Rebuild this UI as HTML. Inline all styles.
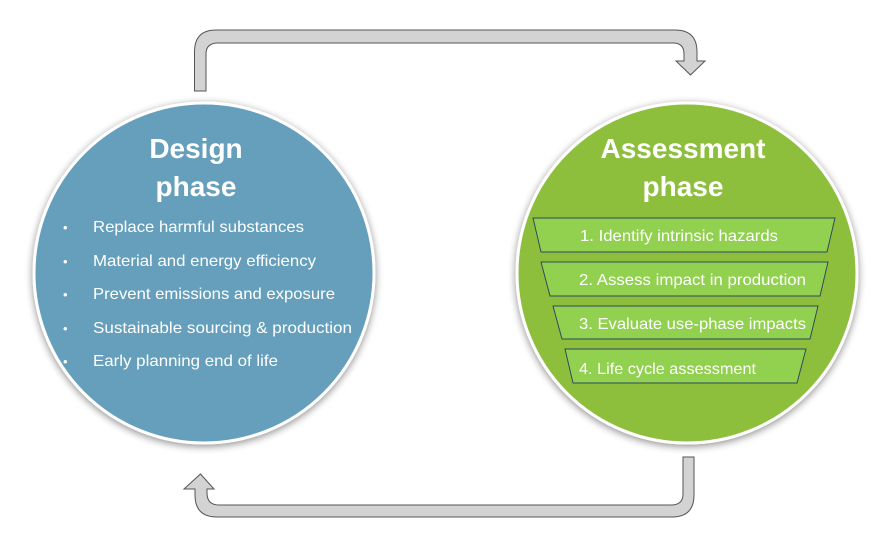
<!DOCTYPE html>
<html><head><style>
body{margin:0;background:#fff;width:883px;height:549px;overflow:hidden;font-family:"Liberation Sans",sans-serif}
</style></head><body>
<svg width="883" height="549" viewBox="0 0 883 549" xmlns="http://www.w3.org/2000/svg">
<defs>
<filter id="sh" x="-20%" y="-20%" width="140%" height="140%"><feGaussianBlur in="SourceAlpha" stdDeviation="4"/><feOffset dy="2"/><feComponentTransfer><feFuncA type="linear" slope="0.45"/></feComponentTransfer><feMerge><feMergeNode/><feMergeNode in="SourceGraphic"/></feMerge></filter>
</defs>
<path d="M194.5,91 L194.5,52 Q194.5,30 216,30 L675,30 Q697,30 697,52 L697,61 L705,61 L690.5,75 L676,61 L684,61 L684,54 Q684,43 673,43 L218,43 Q206,43 206,54 L206,91 Z" fill="#d3d3d3" stroke="#555" stroke-width="1"/>
<path d="M694,457 L694,495 Q694,517 672,517 L217,517 Q195,517 195,495 L195,489 L184,489 L200.5,474 L214,489 L207,489 L207,493 Q207,505 219,505 L671,505 Q683,505 683,494 L683,457 Z" fill="#d3d3d3" stroke="#555" stroke-width="1"/>
<circle cx="204" cy="273" r="170" fill="#659fbb" stroke="#fff" stroke-width="3" filter="url(#sh)"/>
<circle cx="687" cy="273" r="170" fill="#8dbf3e" stroke="#fff" stroke-width="3" filter="url(#sh)"/>
<g fill="#fff" font-weight="bold" font-size="28" text-anchor="middle">
<text x="196" y="158">Design</text><text x="196" y="196">phase</text>
<text x="683" y="158">Assessment</text><text x="683" y="196">phase</text>
</g>
<g fill="#fff" font-size="16">
<text x="63" y="232" font-size="13">•</text><text x="93" y="232" textLength="211" lengthAdjust="spacingAndGlyphs">Replace harmful substances</text>
<text x="63" y="266" font-size="13">•</text><text x="93" y="266" textLength="223" lengthAdjust="spacingAndGlyphs">Material and energy efficiency</text>
<text x="63" y="299" font-size="13">•</text><text x="93" y="299" textLength="242" lengthAdjust="spacingAndGlyphs">Prevent emissions and exposure</text>
<text x="63" y="333" font-size="13">•</text><text x="93" y="333" textLength="259" lengthAdjust="spacingAndGlyphs">Sustainable sourcing &amp; production</text>
<text x="63" y="366" font-size="13">•</text><text x="93" y="366" textLength="185" lengthAdjust="spacingAndGlyphs">Early planning end of life</text>
</g>
<g fill="#92d050" stroke="#2f4a5e" stroke-width="1">
<polygon points="533,218 835,218 827,252 541,252"/>
<polygon points="541,262 828,262 820,296 550,296"/>
<polygon points="553,306 818,306 810,339 562,339"/>
<polygon points="565,349 806,349 797,383 573,383"/>
</g>
<g fill="#fff" font-size="16">
<text x="580" y="241" textLength="198" lengthAdjust="spacingAndGlyphs">1. Identify intrinsic hazards</text>
<text x="579" y="285" textLength="227" lengthAdjust="spacingAndGlyphs">2. Assess impact in production</text>
<text x="579" y="329" textLength="227" lengthAdjust="spacingAndGlyphs">3. Evaluate use-phase impacts</text>
<text x="579" y="374" textLength="177" lengthAdjust="spacingAndGlyphs">4. Life cycle assessment</text>
</g>
</svg>
</body></html>
